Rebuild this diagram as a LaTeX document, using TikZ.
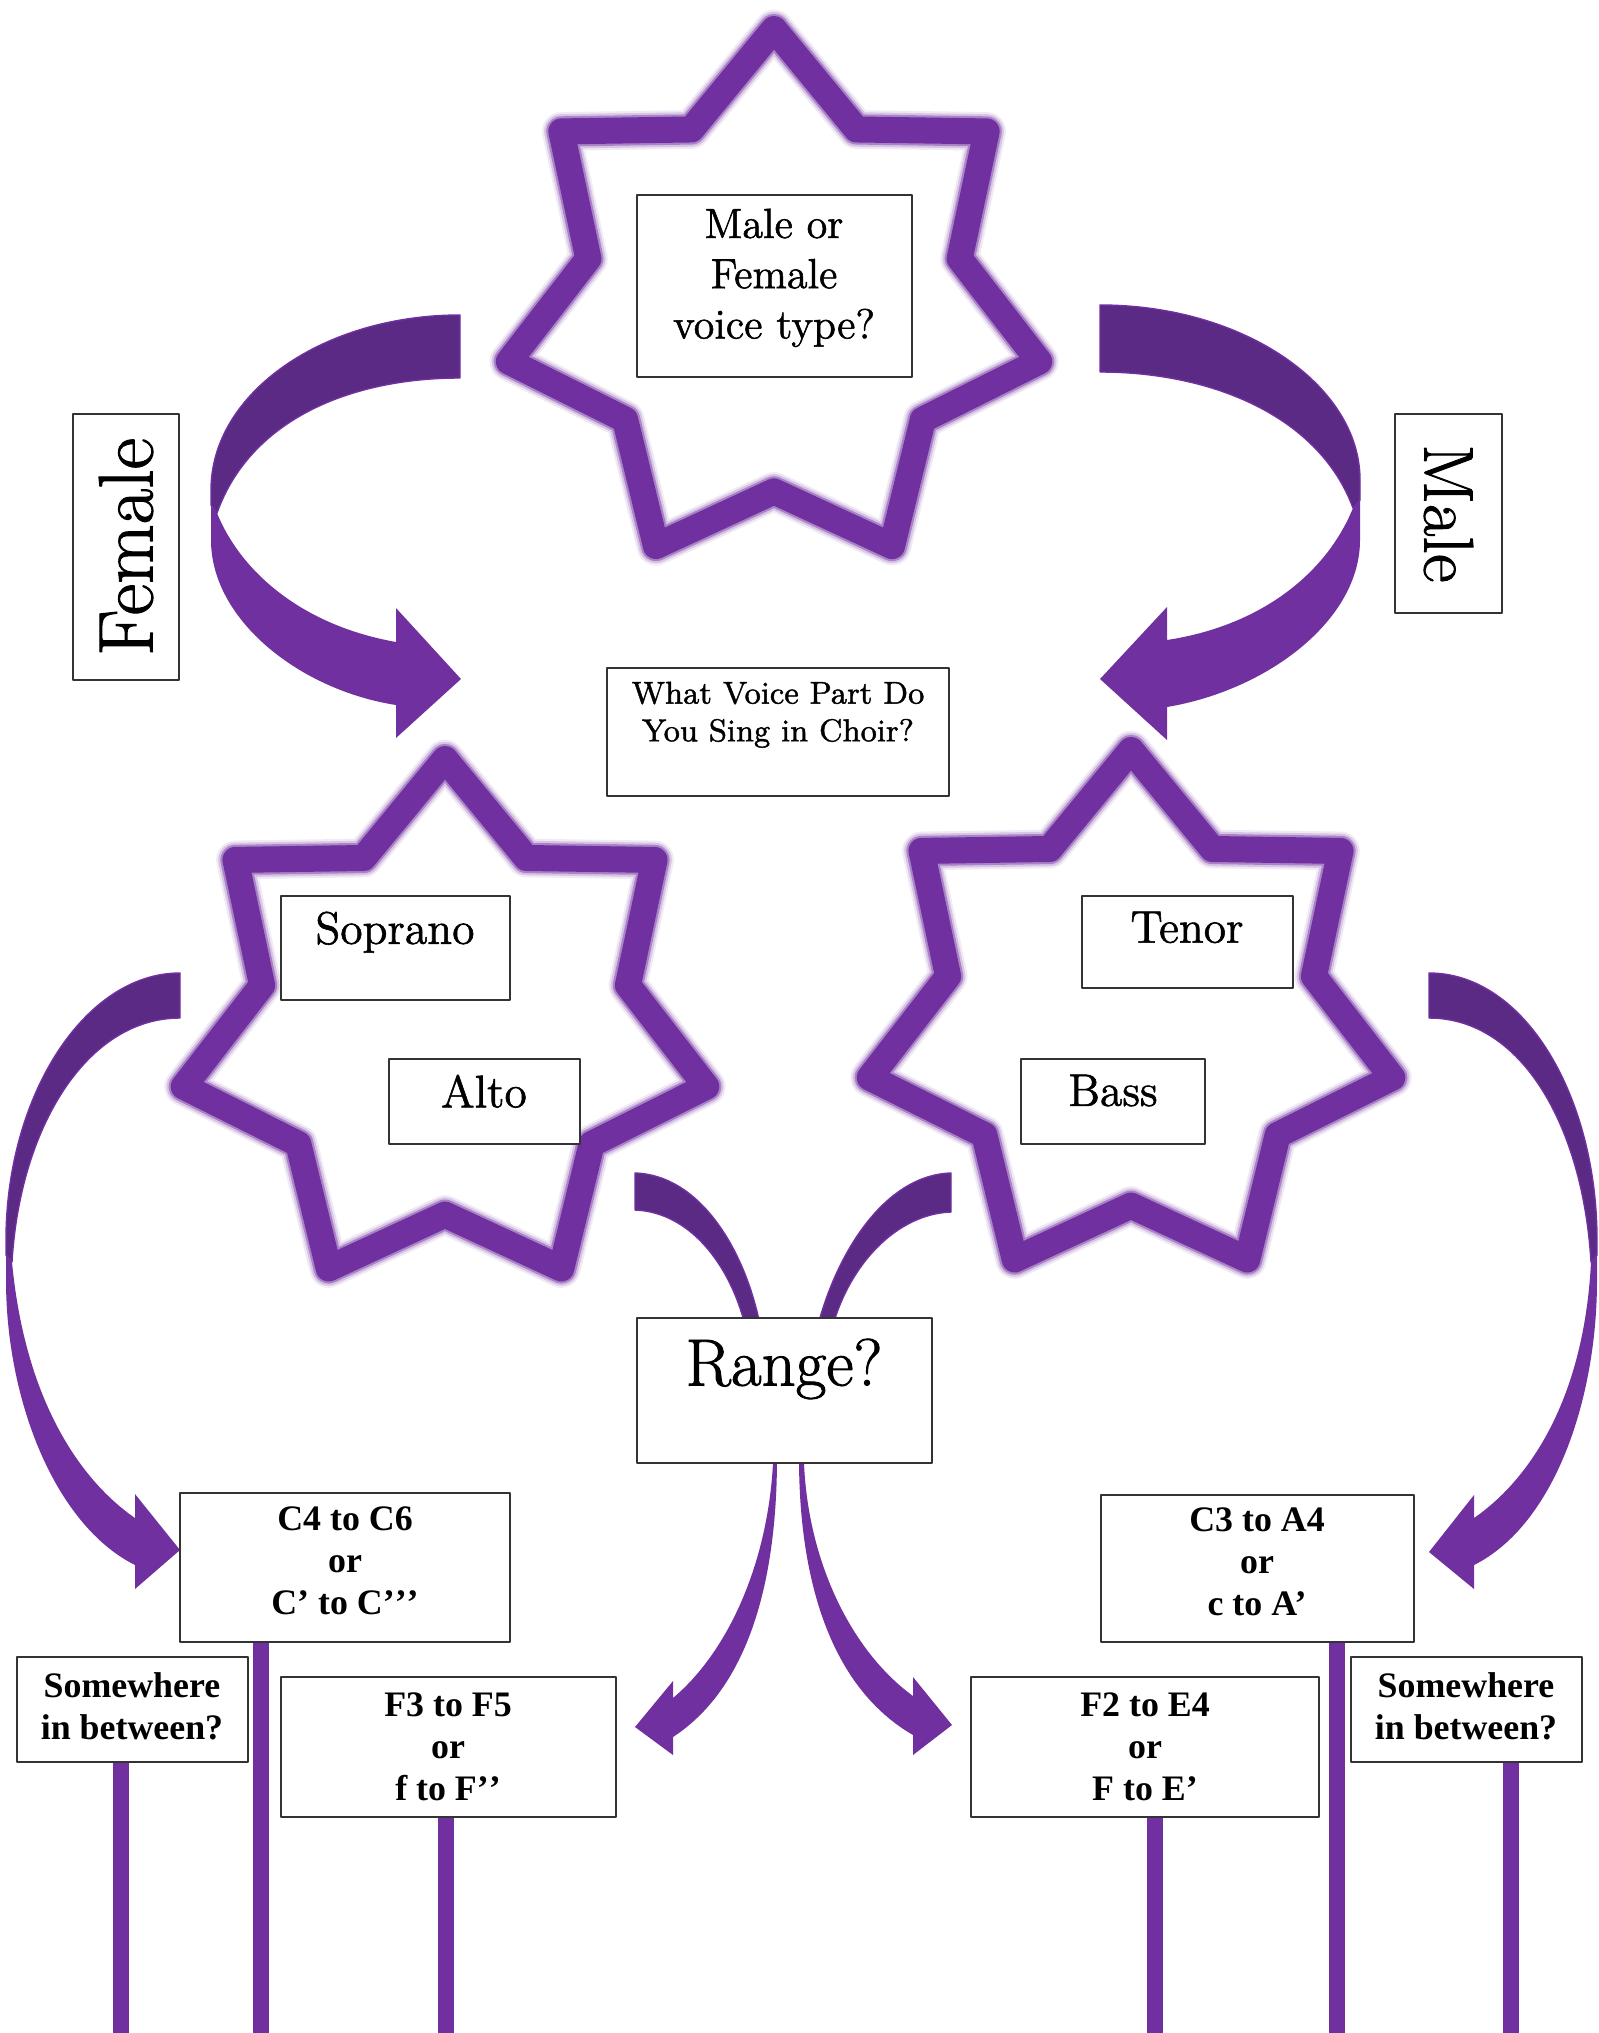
\documentclass[tikz,border=0pt]{standalone}
\usepackage{fontspec}
\newfontfamily\timesfont{Liberation Serif}
\newfontfamily\fancyfont{Latin Modern Roman}[FakeBold=1.3]
\usetikzlibrary{fit}
\definecolor{vpurple}{HTML}{7030A0}
\definecolor{dpurple}{HTML}{5B2A84}

\begin{document}
\begin{tikzpicture}[x=0.1mm, y=-0.1mm, line join=round,
	box/.style={draw=black!80, line width=0.45pt, fill=white, inner sep=0pt},
	fancy/.style={align=center, inner sep=0pt},
	rng/.style={align=center, inner sep=0pt, font=\timesfont\bfseries\fontsize{10.2}{12}\selectfont},
	back/.style={fill=dpurple, draw=vpurple, line width=0.4pt},
	front/.style={fill=vpurple},
	post/.style={draw=vpurple, line width=4.3pt}]
				% Nền trắng và khung hình
				\fill[white] (0,0) rectangle (1599,2033);
				\useasboundingbox (0,0) rectangle (1599,2033);
				
				% Ba ngôi sao bảy cánh (viền mờ)
				\foreach \cx/\cy/\R in {774/301/272, 445/1027/268, 1131/1018/268}{
					\foreach \w/\col in {11pt/vpurple!10, 9.8pt/vpurple!28, 8.6pt/vpurple!60, 7.4pt/vpurple}{
						\draw[line width=\w, \col] ({\cx},{\cy-\R}) \foreach \k in {0,...,6}{
							-- ({\cx+0.7*\R*cos(295.714+51.429*\k)},{\cy+0.7*\R*sin(295.714+51.429*\k)})
							-- ({\cx+\R*cos(321.429+51.429*\k)},{\cy+\R*sin(321.429+51.429*\k)})} -- cycle;
					}
				}
				
				% Mũi tên cong bên trái (Female)
				\path[back] (460,315) .. controls (323,315) and (211,393) .. (211,490) -- (211,505) -- (217,513)
					.. controls (250,420) and (350,378) .. (460,378) -- cycle;
				\path[front] (217,513) -- (211,505) -- (211,540) .. controls (211,620) and (300,690) .. (396,705)
					-- (396,738) -- (461,679) -- (396,608) -- (396,642) .. controls (300,625) and (240,570) .. (217,513) -- cycle;
				
				% Mũi tên cong bên phải (Male)
				\path[back] (1100,305) .. controls (1243,305) and (1360,385) .. (1360,480) -- (1360,500) -- (1353,508)
					.. controls (1320,418) and (1215,372) .. (1100,372) -- cycle;
				\path[front] (1353,508) -- (1360,500) -- (1360,540) .. controls (1360,620) and (1268,690) .. (1167,707)
					-- (1167,740) -- (1100,679) -- (1167,607) -- (1167,640) .. controls (1265,625) and (1328,570) .. (1353,508) -- cycle;
				
				% Mũi tên dài bên trái
				\path[back] (180,973) .. controls (84,973) and (6,1097) .. (6,1240) -- (6,1255) -- (12,1262)
					.. controls (20,1127) and (87,1018) .. (180,1018) -- cycle;
				\path[front] (12,1262) -- (6,1255) -- (6,1280) .. controls (6,1400) and (55,1525) .. (135,1565)
					-- (135,1589) -- (180,1550) -- (135,1494) -- (135,1518) .. controls (80,1480) and (25,1400) .. (12,1262) -- cycle;
				
				% Mũi tên dài bên phải
				\path[back] (1429,973) .. controls (1525,973) and (1597,1097) .. (1597,1240) -- (1597,1255) -- (1591,1262)
					.. controls (1583,1127) and (1522,1018) .. (1429,1018) -- cycle;
				\path[front] (1591,1262) -- (1597,1255) -- (1597,1280) .. controls (1597,1400) and (1554,1525) .. (1474,1565)
					-- (1474,1589) -- (1429,1552) -- (1474,1495) -- (1474,1518) .. controls (1529,1480) and (1584,1400) .. (1591,1262) -- cycle;
				
				% Hai dải tối đi vào ô Range?
				\path[back] (635,1173) .. controls (700,1175) and (745,1250) .. (760,1325) -- (745,1325)
					.. controls (730,1265) and (690,1212) .. (635,1210) -- cycle;
				\path[back] (951,1173) .. controls (886,1175) and (838,1250) .. (818,1325) -- (833,1325)
					.. controls (850,1265) and (896,1214) .. (951,1212) -- cycle;
				
				% Hai mũi tên ra khỏi ô Range?
				\path[front] (773,1450) -- (773,1463) .. controls (768,1560) and (730,1650) .. (673,1698)
					-- (673,1681) -- (635,1727) -- (673,1755) -- (673,1737)
					.. controls (745,1690) and (776,1590) .. (777,1463) -- (777,1450) -- cycle;
				\path[front] (799,1450) -- (799,1463) .. controls (800,1590) and (835,1690) .. (913,1735)
					-- (913,1755) -- (952,1725) -- (913,1677) -- (913,1696)
					.. controls (850,1650) and (808,1560) .. (804,1463) -- (804,1450) -- cycle;
				
				% Các ô câu hỏi
				\node[box, fit={(637,195) (912,377)}] (mf) {};
				\node[fancy, anchor=north, font=\fancyfont\fontsize{12}{14.3}\selectfont] (mftxt) at (774,208) {Male or\\Female\\voice type?};
				\node[box, fit={(73,414) (179,680)}] (fem) {};
				\node[fancy, rotate=90, font=\fancyfont\fontsize{22}{26}\selectfont] (femtxt) at (fem.center) {Female};
				\node[box, fit={(1395,414) (1502,613)}] (male) {};
				\node[fancy, rotate=-90, font=\fancyfont\fontsize{20}{24}\selectfont] (maletxt) at (male.center) {Male};
				\node[box, fit={(607,668) (949,796)}] (wv) {};
				\node[fancy, anchor=north, font=\fancyfont\fontsize{9}{10.7}\selectfont] (wvtxt) at (778,681) {What Voice Part Do\\You Sing in Choir?};
				
				% Các bè
				\node[box, fit={(281,896) (510,1000)}] (sop) {};
				\node[fancy, anchor=north, font=\fancyfont\fontsize{13}{15}\selectfont] (soptxt) at (395,911) {Soprano};
				\node[box, fit={(389,1059) (580,1144)}] (alto) {};
				\node[fancy, anchor=north, font=\fancyfont\fontsize{13}{15}\selectfont] (altotxt) at (484,1074) {Alto};
				\node[box, fit={(1082,896) (1293,988)}] (ten) {};
				\node[fancy, anchor=north, font=\fancyfont\fontsize{13}{15}\selectfont] (tentxt) at (1187,911) {Tenor};
				\node[box, fit={(1021,1059) (1205,1144)}] (bass) {};
				\node[fancy, anchor=north, font=\fancyfont\fontsize{13}{15}\selectfont] (basstxt) at (1113,1074) {Bass};
				
				% Ô Range?
				\node[box, fit={(637,1318) (932,1463)}] (range) {};
				\node[fancy, anchor=north, font=\fancyfont\fontsize{19}{22}\selectfont] (rangetxt) at (784,1338) {Range?};
				
				% Các ô quãng giọng
				\node[box, fit={(180,1493) (510,1642)}] (c4) {};
				\node[rng, anchor=north] (c4txt) at (345,1506) {C4 to C6\\or\\C’ to C’\kern0pt’\kern0pt’};
				\node[box, fit={(1101,1495) (1414,1642)}] (c3) {};
				\node[rng, anchor=north] (c3txt) at (1257,1507) {C3 to A4\\or\\c to A’};
				\node[box, fit={(17,1657) (248,1762)}] (sbl) {};
				\node[rng, anchor=north] (sbltxt) at (132,1672) {Somewhere\\in between?};
				\node[box, fit={(281,1677) (616,1817)}] (f3) {};
				\node[rng, anchor=north] (f3txt) at (448,1692) {F3 to F5\\or\\f to F’\kern0pt’};
				\node[box, fit={(971,1677) (1319,1817)}] (f2) {};
				\node[rng, anchor=north] (f2txt) at (1145,1692) {F2 to E4\\or\\F to E’};
				\node[box, fit={(1351,1657) (1582,1762)}] (sbr) {};
				\node[rng, anchor=north] (sbrtxt) at (1466,1672) {Somewhere\\in between?};
				
				% Các cột dọc xuống đáy
				\foreach \n/\x in {sbl/121, c4/261, f3/446, f2/1155, c3/1337, sbr/1511}
					\draw[post] (\x,0 |- \n.south) -- (\x,2033);
\end{tikzpicture}
\end{document}
